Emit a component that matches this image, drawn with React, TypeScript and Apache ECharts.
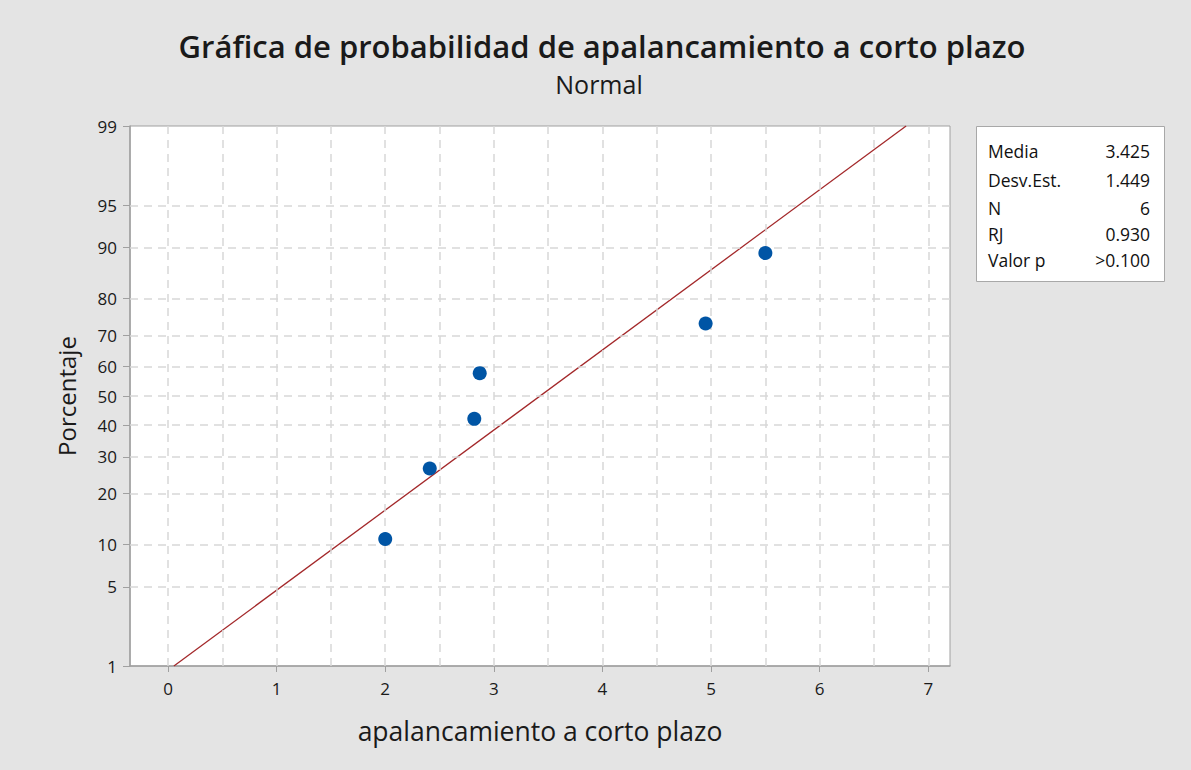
import React, { useEffect, useRef } from "react";
import * as echarts from "echarts";

const xValues = [2.0, 2.41, 2.82, 2.87, 4.95, 5.5];
const pctValues = [10.9, 26.6, 42.2, 57.8, 73.4, 89.1];
const yTickPcts = [1, 5, 10, 20, 30, 40, 50, 60, 70, 80, 90, 95, 99];
const xTickValues = [0, 1, 2, 3, 4, 5, 6, 7];
const xGridValues = [0, 0.5, 1, 1.5, 2, 2.5, 3, 3.5, 4, 4.5, 5, 5.5, 6, 6.5, 7];
const statLabels = ["Media", "Desv.Est.", "N", "RJ", "Valor p"];
const statValues = ["3.425", "1.449", "6", "0.930", ">0.100"];
const fitMean = 3.425;
const fitSd = 1.449;

// inverse standard normal CDF (Acklam)
function normInv(p: number): number {
  const a = [-3.969683028665376e1, 2.209460984245205e2, -2.759285104469687e2, 1.38357751867269e2, -3.066479806614716e1, 2.506628277459239];
  const b = [-5.447609879822406e1, 1.615858368580409e2, -1.556989798598866e2, 6.680131188771972e1, -1.328068155288572e1];
  const c = [-7.784894002430293e-3, -3.223964580411365e-1, -2.400758277161838, -2.549671010466353, 4.374664141464968, 2.938163982698783];
  const d = [7.784695709041462e-3, 3.224671290700398e-1, 2.445134137142996, 3.754408661907416];
  const pl = 0.02425;
  if (p < pl) {
    const q = Math.sqrt(-2 * Math.log(p));
    return (((((c[0] * q + c[1]) * q + c[2]) * q + c[3]) * q + c[4]) * q + c[5]) / ((((d[0] * q + d[1]) * q + d[2]) * q + d[3]) * q + 1);
  }
  if (p > 1 - pl) {
    const q = Math.sqrt(-2 * Math.log(1 - p));
    return -(((((c[0] * q + c[1]) * q + c[2]) * q + c[3]) * q + c[4]) * q + c[5]) / ((((d[0] * q + d[1]) * q + d[2]) * q + d[3]) * q + 1);
  }
  const q = p - 0.5;
  const r = q * q;
  return ((((((a[0] * r + a[1]) * r + a[2]) * r + a[3]) * r + a[4]) * r + a[5]) * q) / (((((b[0] * r + b[1]) * r + b[2]) * r + b[3]) * r + b[4]) * r + 1);
}

export default function App() {
  const ref = useRef<HTMLDivElement>(null);
  useEffect(() => {
    if (!ref.current) return;
    const chart = echarts.init(ref.current, null, { renderer: "svg" });
    const font = "'Open Sans', 'Noto Sans', sans-serif";
    const yTicksZ = yTickPcts.map((p) => normInv(p / 100));
    const zMin = yTicksZ[0];
    const zMax = yTicksZ[yTicksZ.length - 1];
    const pctFromZ = (z: number) => {
      let best = 0;
      for (let i = 1; i < yTicksZ.length; i++) if (Math.abs(yTicksZ[i] - z) < Math.abs(yTicksZ[best] - z)) best = i;
      return String(yTickPcts[best]);
    };
    const points = xValues.map((x, i) => [x, normInv(pctValues[i] / 100)]);
    const fitLine = [
      [fitMean + zMin * fitSd, zMin],
      [fitMean + zMax * fitSd, zMax],
    ];
    const gridStyle = { color: "#d8d8d8", type: [8, 6] as any, width: 1.5 };
    const markLines = [
      ...xGridValues.map((x) => ({ xAxis: x })),
      ...yTicksZ.slice(1, -1).map((z) => ({ yAxis: z })),
    ];
    const rowsY = [151, 180, 208, 234, 260];
    const statGraphics: any[] = [
      { type: "rect", shape: { x: 976.5, y: 126.5, width: 188, height: 155 }, style: { fill: "#ffffff", stroke: "#a8a8a8", lineWidth: 1 } },
    ];
    statLabels.forEach((l, i) => {
      statGraphics.push({ type: "text", x: 988, y: rowsY[i], style: { text: l, fill: "#111", font: `17.5px ${font}`, textAlign: "left", textVerticalAlign: "middle" } });
      statGraphics.push({ type: "text", x: 1150, y: rowsY[i], style: { text: statValues[i], fill: "#111", font: `17.5px ${font}`, textAlign: "right", textVerticalAlign: "middle" } });
    });
    chart.setOption({
      animation: false,
      backgroundColor: "#e4e4e4",
      title: [
        { text: "Gráfica de probabilidad de apalancamiento a corto plazo", left: 597, textAlign: "center", top: 25, textStyle: { fontFamily: font, fontSize: 31, fontWeight: 600, color: "#1a1a1a" } },
        { text: "Normal", left: 594, top: 66, textAlign: "center", textStyle: { fontFamily: font, fontSize: 25, fontWeight: 500, color: "#1a1a1a" } },
      ],
      grid: { left: 130, top: 126, right: 241, bottom: 104, show: true, backgroundColor: "#ffffff", borderColor: "#a0a0a0", borderWidth: 1 },
      xAxis: {
        type: "value",
        min: -0.35,
        max: 7.2,
        name: "apalancamiento a corto plazo",
        nameLocation: "middle",
        nameGap: 51,
        nameTextStyle: { fontFamily: font, fontSize: 26.5, color: "#1a1a1a" },
        axisLine: { show: true, onZero: false, lineStyle: { color: "#a0a0a0", width: 1.5 } },
        axisTick: { show: true, length: 6, customValues: xTickValues, lineStyle: { color: "#a0a0a0" } },
        axisLabel: { customValues: xTickValues, fontFamily: font, fontSize: 17, color: "#1a1a1a", margin: 14 },
        splitLine: { show: false },
      },
      yAxis: {
        type: "value",
        min: zMin,
        max: zMax,
        name: "Porcentaje",
        nameLocation: "middle",
        nameGap: 52,
        nameTextStyle: { fontFamily: font, fontSize: 24, color: "#1a1a1a" },
        axisLine: { show: true, onZero: false, lineStyle: { color: "#a0a0a0", width: 1.5 } },
        axisTick: { show: true, length: 7, customValues: yTicksZ, lineStyle: { color: "#a0a0a0" } },
        axisLabel: { customValues: yTicksZ, formatter: (v: number) => pctFromZ(v), fontFamily: font, fontSize: 17, color: "#1a1a1a", margin: 13 },
        splitLine: { show: false },
      },
      series: [
        {
          type: "line",
          data: [],
          silent: true,
          markLine: { silent: true, symbol: "none", label: { show: false }, lineStyle: gridStyle, data: markLines, animation: false },
          z: 0,
        },
        {
          type: "line",
          data: fitLine,
          showSymbol: false,
          symbol: "none",
          lineStyle: { color: "#a3282a", width: 1.3 },
          z: 3,
        },
        {
          type: "scatter",
          data: points,
          symbol: "circle",
          symbolSize: 14,
          itemStyle: { color: "#0055a5", opacity: 1 },
          z: 10,
        },
      ],
      graphic: statGraphics,
    });
    return () => chart.dispose();
  }, []);
  return <div ref={ref} style={{ position: "fixed", left: 0, top: 0, width: 1191, height: 770 }} />;
}
